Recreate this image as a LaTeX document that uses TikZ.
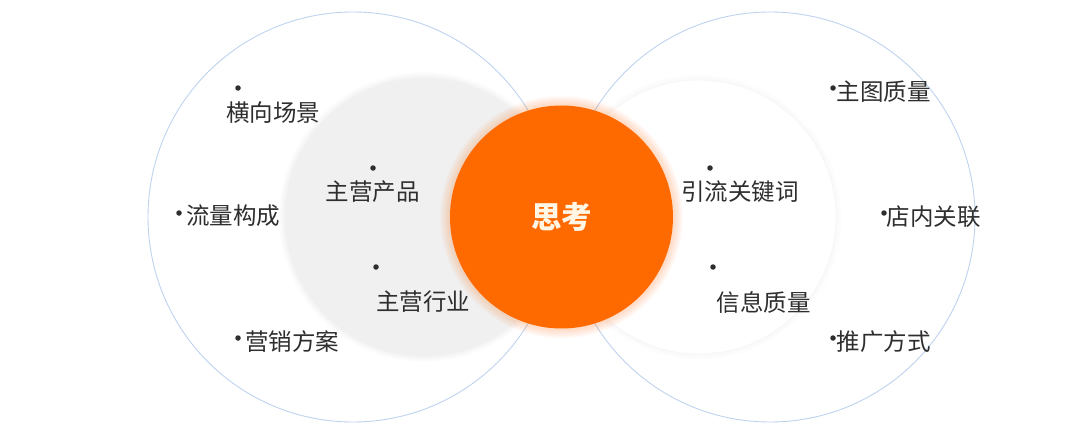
\documentclass[tikz,border=0pt]{standalone}
\usepackage{fontspec}
\newfontfamily\cjk{Noto Sans CJK SC}
\definecolor{orangec}{HTML}{FF6A00}
\definecolor{ringblue}{HTML}{BFD2F0}
\definecolor{grayfill}{HTML}{F0F0F0}
\definecolor{txt}{HTML}{2E2E2E}
\definecolor{titletxt}{HTML}{FFF6E6}
\begin{document}
\begin{tikzpicture}[x=1pt,y=-1pt,
  ring/.style={circle, inner sep=0pt, outer sep=0pt},
  label/.style={inner sep=0pt, text=txt, font=\cjk\fontsize{23.5}{23.5}\selectfont},
  dotb/.style={circle, fill=txt, inner sep=0pt, minimum size=5.5pt}]
\fill[white] (0,0) rectangle (1084,436);
\useasboundingbox (0,0) rectangle (1084,436);
% big outline circles
\node[ring, draw=ringblue, line width=0.9pt, minimum size=410pt] (bigL) at (353,217) {};
\node[ring, draw=ringblue, line width=0.9pt, minimum size=410pt] (bigR) at (770,217) {};
% gray circle with soft shadow
\foreach \k in {1,...,6}{\fill[black, opacity=0.008] (424,217) circle[radius=139+\k];}
\node[ring, fill=grayfill, minimum size=278pt] (gray) at (424,217) {};
% faint right circle
\foreach \k in {1,...,6}{\fill[black, opacity=0.005] (699,217) circle[radius=137+\k];}
\node[ring, fill=white, draw=black!3, line width=0.8pt, minimum size=274pt] (faint) at (699,217) {};
% orange glow
\foreach \k in {1,...,10}{\fill[orangec, opacity=0.025] (561.5,217) circle[radius=111.5+\k];}
\node[ring, fill=orangec, minimum size=223pt, text=titletxt,
      font=\cjk\bfseries\fontsize{30.5}{30.5}\selectfont] (think) at (561.5,217) {思考};
% bullets
\node[dotb] (d1) at (238,88) {};
\node[dotb] (d2) at (373,168) {};
\node[dotb] (d3) at (179,213) {};
\node[dotb] (d4) at (376,267) {};
\node[dotb] (d5) at (238,338) {};
\node[dotb] (d6) at (833,88) {};
\node[dotb] (d7) at (710,168) {};
\node[dotb] (d8) at (884,213) {};
\node[dotb] (d9) at (713,267) {};
\node[dotb] (d10) at (833,338) {};
% labels
\node[label] (t1) at (273,113) {横向场景};
\node[label] (t2) at (372.5,192) {主营产品};
\node[label] (t3) at (233,216) {流量构成};
\node[label] (t4) at (423,302) {主营行业};
\node[label] (t5) at (292,342) {营销方案};
\node[label] (t6) at (883.5,92) {主图质量};
\node[label] (t7) at (740,192) {引流关键词};
\node[label] (t8) at (933.5,217) {店内关联};
\node[label] (t9) at (763.5,302) {信息质量};
\node[label] (t10) at (883.5,342) {推广方式};
\end{tikzpicture}
\end{document}
